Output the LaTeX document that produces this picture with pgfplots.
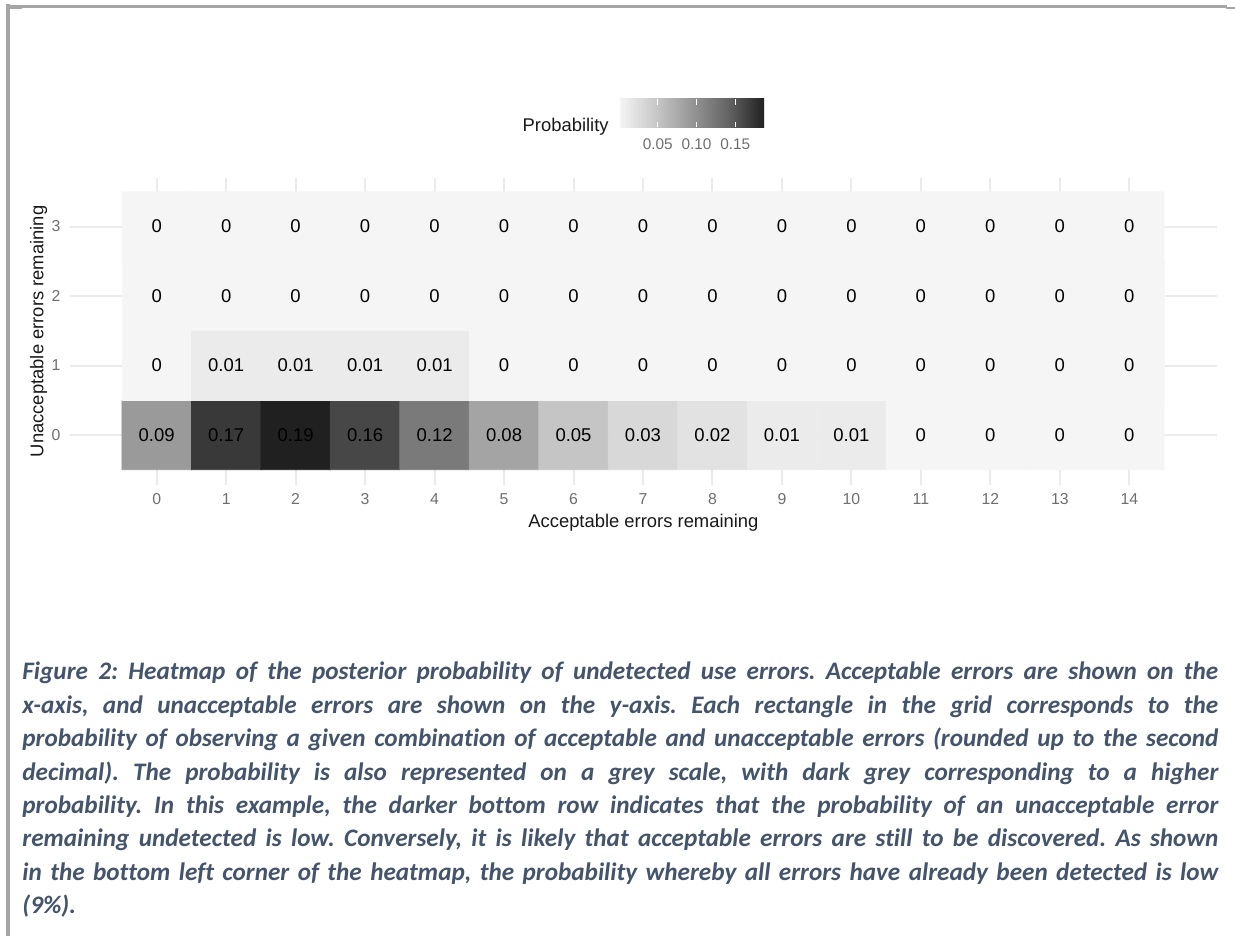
\documentclass[border=0pt]{standalone}
\usepackage{fontspec}
\setmainfont{Liberation Sans}
\newfontfamily\capfont[Ligatures={NoCommon}]{Carlito}
\usepackage{pgfplots}
\usepackage{pgfplotstable}
\pgfplotsset{compat=1.18}

\definecolor{gridgrey}{RGB}{235,235,235}
\definecolor{ticktext}{RGB}{110,110,110}
\definecolor{captext}{RGB}{68,84,106}
\definecolor{framegrey}{RGB}{166,166,166}

% acceptable errors (a), unacceptable errors (u), probability (p)
\pgfplotstableread{
a u p
0 0 0.09
1 0 0.17
2 0 0.19
3 0 0.16
4 0 0.12
5 0 0.08
6 0 0.05
7 0 0.03
8 0 0.02
9 0 0.01
10 0 0.01
11 0 0
12 0 0
13 0 0
14 0 0
0 1 0
1 1 0.01
2 1 0.01
3 1 0.01
4 1 0.01
5 1 0
6 1 0
7 1 0
8 1 0
9 1 0
10 1 0
11 1 0
12 1 0
13 1 0
14 1 0
0 2 0
1 2 0
2 2 0
3 2 0
4 2 0
5 2 0
6 2 0
7 2 0
8 2 0
9 2 0
10 2 0
11 2 0
12 2 0
13 2 0
14 2 0
0 3 0
1 3 0
2 3 0
3 3 0
4 3 0
5 3 0
6 3 0
7 3 0
8 3 0
9 3 0
10 3 0
11 3 0
12 3 0
13 3 0
14 3 0
}\probdata

\begin{document}
\begin{tikzpicture}
\path[use as bounding box] (0,0) rectangle (617.5pt,468pt);

% page frame
\fill[framegrey] (3pt,0) rectangle (5pt,466pt);
\fill[framegrey] (3pt,464.15pt) rectangle (613.5pt,465.5pt);
\fill[framegrey] (613pt,463.5pt) rectangle (617.5pt,464.5pt);
\fill[framegrey] (5pt,463.5pt) rectangle (11pt,464.15pt);

\begin{axis}[
    at={(35pt,225.5pt)}, anchor=south west,
    x=34.735pt, y=34.735pt,
    xmin=-1.248, xmax=15.26, ymin=-0.72, ymax=3.70,
    axis line style={draw=none},
    major tick length=0pt,
    xtick={0,...,14}, ytick={0,...,3},
    grid=major,
    major grid style={gridgrey, line width=1pt},
    ticklabel style={font=\fontsize{7.9}{9}\selectfont, text=ticktext, inner sep=0pt},
    /pgf/number format/assume math mode=true,
    xticklabel style={anchor=base, yshift=-9.85pt},
    yticklabel style={anchor=east, xshift=-4.65pt},
    xlabel={Acceptable errors remaining},
    ylabel={Unacceptable errors remaining},
    label style={font=\fontsize{9.2}{11}\selectfont, text=black!90, inner sep=0pt},
    xlabel style={at={(axis description cs:0.5,-0.1378)}, anchor=base},
    ylabel style={at={(axis description cs:-0.02328,0.5)}, anchor=base},
    colormap={tilegrey}{rgb255=(245,245,245) rgb255=(200,200,200) rgb255=(150,150,150) rgb255=(100,100,100) rgb255=(32,32,32)},
    point meta min=0, point meta max=0.187,
    colorbar horizontal,
    colorbar style={
        at={(parent axis.north west)}, anchor=south west,
        xshift=274.5pt, yshift=33.85pt,
        scale only axis, width=72.5pt, height=14.2pt,
        grid=none,
        axis line style={draw=none},
        xtick={0.05,0.1,0.15}, ytick=\empty,
        xtick pos=both, xticklabel pos=lower,
        tick align=inside, major tick length=2.8pt,
        major tick style={white, line width=0.6pt},
        xticklabel style={font=\fontsize{7.7}{9}\selectfont, text=ticktext, inner sep=0pt,
            anchor=base, yshift=-11pt,
            /pgf/number format/.cd, fixed, fixed zerofill, precision=2, assume math mode=true},
    },
]
\addplot[matrix plot*, mesh/cols=15, point meta=explicit]
    table[x=a, y=u, meta=p] {\probdata};
\addplot[draw=none, mark=none, forget plot, point meta=explicit,
    nodes near coords={\pgfmathprintnumber[fixed, precision=2, assume math mode=true]{\pgfplotspointmeta}},
    nodes near coords align=center,
    every node near coord/.style={font=\fontsize{9.25}{11}\selectfont, text=black, inner sep=0pt, anchor=center}]
    table[x=a, y=u, meta=p] {\probdata};
\end{axis}

\node[anchor=base east, inner sep=0pt, font=\fontsize{9.2}{11}\selectfont, text=black!90]
    at (304.5pt,402.15pt) {Probability};

% caption
\node[anchor=base west, inner sep=0pt, text=captext] at (11pt,128pt) {%
\parbox[t]{598pt}{\capfont\bfseries\itshape\fontsize{12.6}{16.7}\selectfont\frenchspacing
\makebox[598pt][s]{Figure 2: Heatmap of the posterior probability of undetected use errors. Acceptable errors are shown on the}\\
\makebox[598pt][s]{x-axis, and unacceptable errors are shown on the y-axis. Each rectangle in the grid corresponds to the}\\
\makebox[598pt][s]{probability of observing a given combination of acceptable and unacceptable errors (rounded up to the second}\\
\makebox[598pt][s]{decimal). The probability is also represented on a grey scale, with dark grey corresponding to a higher}\\
\makebox[598pt][s]{probability. In this example, the darker bottom row indicates that the probability of an unacceptable error}\\
\makebox[598pt][s]{remaining undetected is low. Conversely, it is likely that acceptable errors are still to be discovered. As shown}\\
\makebox[598pt][s]{in the bottom left corner of the heatmap, the probability whereby all errors have already been detected is low}\\
(9\%).}};
\end{tikzpicture}
\end{document}
